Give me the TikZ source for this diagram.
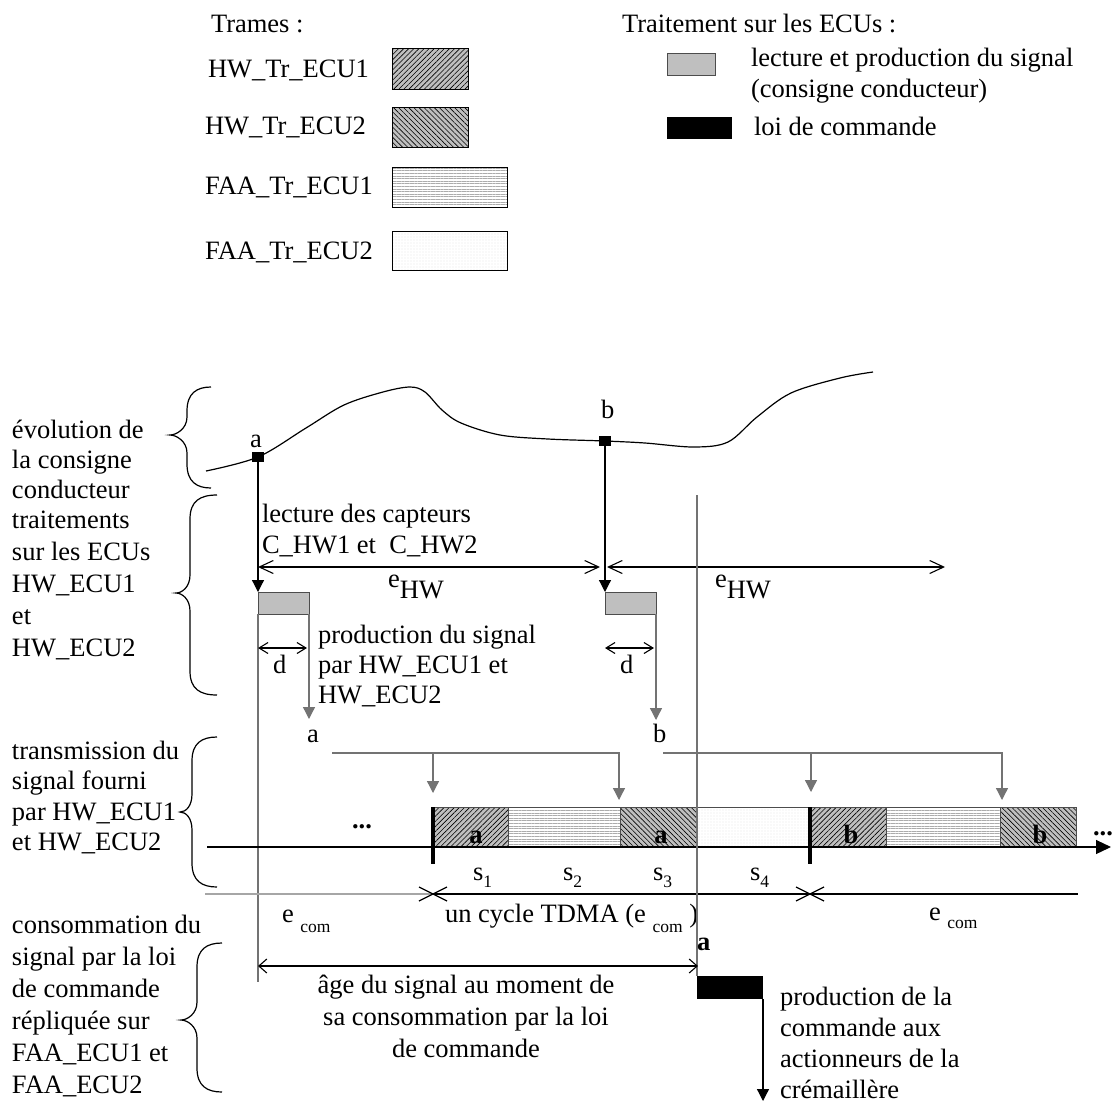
\documentclass[tikz,border=0pt]{standalone}
\usepackage{fontspec}
\setmainfont{Liberation Serif}
\usetikzlibrary{arrows.meta,patterns.meta}
\newcommand\mybrace[6]{%
  \draw[brc] (#1,#4) .. controls (#2+10,#4) and (#2,#4+6) .. (#2,#4+24) -- (#2,#5-18) .. controls (#2,#5-6) and (#3+6,#5) .. (#3,#5) .. controls (#3+6,#5) and (#2,#5+6) .. (#2,#5+18) -- (#2,#6-24) .. controls (#2,#6-6) and (#2+10,#6) .. (#1,#6);}
\begin{document}
\begin{tikzpicture}[x=1pt,y=-1pt,
 every node/.style={inner sep=0pt, outer sep=0pt},
 txt/.style={font=\fontsize{26.5}{31}\selectfont, anchor=base west},
 txtc/.style={font=\fontsize{26.5}{31}\selectfont, anchor=base},
 bld/.style={font=\fontsize{26.5}{31}\selectfont\bfseries, anchor=base},
 ln/.style={line width=1.2pt},
 con/.style={line width=1.3pt, draw=black!55},
 tri/.style={-{Triangle[length=12pt,width=12pt]}},
 barb/.style={line width=1.1pt,{Straight Barb[length=14pt,width=13pt,line width=1.1pt]}-{Straight Barb[length=14pt,width=13pt,line width=1.1pt]}},
 barbs/.style={line width=1.1pt,{Straight Barb[length=9pt,width=11pt,line width=1.1pt]}-{Straight Barb[length=9pt,width=11pt,line width=1.1pt]}},
 barba/.style={line width=1.1pt,{Straight Barb[length=8pt,width=14pt,line width=1.1pt]}-{Straight Barb[length=8pt,width=14pt,line width=1.1pt]}},
 brc/.style={line width=1.2pt},
 hwA/.style={preaction={fill=gray!50}, pattern={Lines[angle=45,distance=3.6pt,line width=0.6pt]}, pattern color=black},
 hwB/.style={preaction={fill=gray!50}, pattern={Lines[angle=-45,distance=3.6pt,line width=0.6pt]}, pattern color=black},
 faaA/.style={preaction={fill=white}, pattern={Lines[angle=0,distance=2.6pt,line width=0.5pt]}, pattern color=gray!65},
 faaB/.style={preaction={fill=white}, pattern={Dots[distance=3pt,radius=0.45pt]}, pattern color=gray!55},
 segb/.style={draw=gray!60!black, line width=0.8pt},
 gbx/.style={draw=black!70, fill=gray!50, line width=0.8pt, anchor=north west},
]
\useasboundingbox (0,0) rectangle (1114,1104);

% ---------- legend left
\node[txt] (trames) at (211,32.5) {Trames :};
\node[txt] (lg1) at (208,77) {HW\_Tr\_ECU1};
\node[txt] (lg2) at (205,134.5) {HW\_Tr\_ECU2};
\node[txt] (lg3) at (205,194) {FAA\_Tr\_ECU1};
\node[txt] (lg4) at (205,259) {FAA\_Tr\_ECU2};
\draw[hwA, draw=black, line width=0.8pt] (392,48) rectangle (468,89);
\draw[hwB, draw=black, line width=0.8pt] (392,107) rectangle (468,147);
\draw[faaA, draw=black, line width=0.8pt] (392,167) rectangle (507,207);
\draw[faaB, draw=black, line width=0.8pt] (392,231) rectangle (507,270);

% ---------- legend right
\node[txt] (trt) at (622,32.5) {Traitement sur les ECUs :};
\node[gbx, minimum width=48pt, minimum height=22pt] (lgb) at (667,53) {};
\node[txt] (lgt1) at (751,66) {lecture et production du signal};
\node[txt] (lgt2) at (751,97) {(consigne conducteur)};
\node[fill=black, minimum width=65pt, minimum height=22pt, anchor=north west] (lbb) at (667,117) {};
\node[txt] (lgt3) at (754,135) {loi de commande};

% ---------- left labels
\node[txt] (g11) at (12,438) {évolution de};
\node[txt] (g12) at (12,468) {la consigne};
\node[txt] (g13) at (12,498) {conducteur};
\node[txt] (g21) at (12,528) {traitements};
\node[txt] (g22) at (12,560) {sur les ECUs};
\node[txt] (g23) at (12,592) {HW\_ECU1};
\node[txt] (g24) at (12,624) {et};
\node[txt] (g25) at (12,656) {HW\_ECU2};
\node[txt] (g31) at (12,759) {transmission du};
\node[txt] (g32) at (12,789) {signal fourni};
\node[txt] (g33) at (12,820) {par HW\_ECU1};
\node[txt] (g34) at (12,850) {et HW\_ECU2};
\node[txt] (g41) at (12,933) {consommation du};
\node[txt] (g42) at (12,965) {signal par la loi};
\node[txt] (g43) at (12,997) {de commande};
\node[txt] (g44) at (12,1029) {répliquée sur};
\node[txt] (g45) at (12,1061) {FAA\_ECU1 et};
\node[txt] (g46) at (12,1093) {FAA\_ECU2};

\mybrace{211}{187}{170}{387}{435}{488}
\mybrace{217}{190}{176}{495}{593}{695}
\mybrace{217}{192}{180}{737}{812}{887}
\mybrace{222}{197}{181}{943}{1020}{1092}

% ---------- curve of the driver set-point
\draw[line width=1.2pt] plot[smooth,tension=0.55] coordinates {(206,471) (258,457) (306,428) (344,405) (383,392) (410,387) (425,392) (442,410) (461,423) (500,435) (548,439) (605,441) (645,443) (694,447) (728,442) (757,417) (791,393) (840,378) (873,372)};
\node[fill=black, minimum width=12pt, minimum height=10pt] (sqa) at (258,457) {};
\node[fill=black, minimum width=12pt, minimum height=10pt] (sqb) at (605,441) {};
\node[txt] (la) at (250,447) {a};
\node[txt] (lb) at (601,418) {b};

% ---------- ECU processing
\node[gbx, minimum width=51pt, minimum height=22pt] (pa) at (258,592) {};
\node[gbx, minimum width=51pt, minimum height=22pt] (pb) at (605,592) {};
\draw[ln,tri] (sqa.south) -- (pa.north west);
\draw[ln,tri] (sqb.south) -- (pb.north west);
\coordinate (aend) at (258,982);
\draw[con] (pa.south west) -- (aend);

\node[txt] (lec1) at (262,522) {lecture des capteurs};
\node[txt] (lec2) at (262,553) {C\_HW1 et\ \ C\_HW2};

\coordinate (eh1) at (258,567);
\coordinate (eh2) at (600,567);
\coordinate (eh3) at (607,567);
\coordinate (eh4) at (945,567);
\draw[barb] (eh1) -- (eh2);
\draw[barb] (eh3) -- (eh4);
\node[txt] (ehw1) at (388,587) {e\raisebox{-11pt}{HW}};
\node[txt] (ehw2) at (715,587) {e\raisebox{-11pt}{HW}};

\coordinate (d1a) at (258,648);
\coordinate (d1b) at (307,648);
\coordinate (d2a) at (605,648);
\coordinate (d2b) at (654,648);
\draw[barbs] (d1a) -- (d1b);
\draw[barbs] (d2a) -- (d2b);
\node[txt] (dl1) at (273,673) {d};
\node[txt] (dl2) at (620,673) {d};

\node[txt] (pr1) at (318,643) {production du signal};
\node[txt] (pr2) at (318,673) {par HW\_ECU1 et};
\node[txt] (pr3) at (318,703) {HW\_ECU2};

\coordinate (pad) at (309,719);
\coordinate (pbd) at (656,720);
\draw[con,tri] (pa.south east) -- (pad);
\draw[con,tri] (pb.south east) -- (pbd);
\node[txt] (sa) at (307,742) {a};
\node[txt] (sb) at (653,742) {b};

% ---------- transmissions
\coordinate (ah0) at (332,753);
\coordinate (ah1) at (433,753);
\coordinate (ah2) at (619,753);
\coordinate (at1) at (433,793);
\coordinate (at2) at (619,800);
\draw[con,tri] (ah0) -- (ah2) -- (at2);
\draw[con,tri] (ah1) -- (at1);
\coordinate (bh0) at (663,753);
\coordinate (bh1) at (811,753);
\coordinate (bh2) at (1002,753);
\coordinate (bt1) at (811,792);
\coordinate (bt2) at (1002,800);
\draw[con,tri] (bh0) -- (bh2) -- (bt2);
\draw[con,tri] (bh1) -- (bt1);

% ---------- TDMA bar
\draw[hwA, segb] (433,807) rectangle (508,847);
\draw[faaA, segb] (508,807) rectangle (620,847);
\draw[hwB, segb] (620,807) rectangle (697,847);
\draw[faaB, segb] (697,807) rectangle (810,847);
\draw[hwA, segb] (810,807) rectangle (886,847);
\draw[faaA, segb] (886,807) rectangle (1000,847);
\draw[hwB, segb] (1000,807) rectangle (1076,847);
\node[bld] (ba1) at (476,843) {a};
\node[bld] (ba2) at (661,843) {a};
\node[bld] (bb1) at (851,843) {b};
\node[bld] (bb2) at (1040,843) {b};

\coordinate (ax0) at (207,847);
\coordinate (ax1) at (1111,847);
\draw[ln,-{Triangle[length=15pt,width=14pt]}] (ax0) -- (ax1);
\draw[line width=3.5pt] (433,807) -- (433,864);
\draw[line width=3.5pt] (810,807) -- (810,864);
\node[bld] (dots1) at (362,828) {...};
\node[bld] (dots2) at (1103,835) {...};

\node[txt] (s1) at (473,880) {s\raisebox{-7pt}{\fontsize{17.5}{20}\selectfont 1}};
\node[txt] (s2) at (563,880) {s\raisebox{-7pt}{\fontsize{17.5}{20}\selectfont 2}};
\node[txt] (s3) at (653,880) {s\raisebox{-7pt}{\fontsize{17.5}{20}\selectfont 3}};
\node[txt] (s4) at (750,880) {s\raisebox{-7pt}{\fontsize{17.5}{20}\selectfont 4}};

\draw[line width=1.8pt, gray!70] (205,894) -- (433,894);
\draw[ln] (433,894) -- (1078,894);
\draw[ln] (419,887) -- (447,901) (419,901) -- (447,887);
\draw[ln] (796,887) -- (824,901) (796,901) -- (824,887);

\node[txt] (ec1) at (282,922) {e \raisebox{-10pt}{\fontsize{17.5}{20}\selectfont com}};
\node[txt] (cyc) at (445,922) {un cycle TDMA (e \raisebox{-10pt}{\fontsize{17.5}{20}\selectfont com} )};
\node[txt] (ec2) at (929,920) {e \raisebox{-8pt}{\fontsize{17.5}{20}\selectfont com}};

% ---------- consumption
\node[fill=black, minimum width=66pt, minimum height=23pt, anchor=north west] (cmd) at (697,976) {};
\coordinate (vtop) at (697,495);
\draw[con] (vtop) -- (cmd.north west);
\node[txt, font=\fontsize{26.5}{31}\selectfont\bfseries] (ca) at (697,950) {a};

\coordinate (ag1) at (258,966);
\coordinate (ag2) at (698,966);
\draw[barba] (ag1) -- (ag2);
\node[txtc] (age1) at (466,993) {âge du signal au moment de};
\node[txtc] (age2) at (466,1025) {sa consommation par la loi};
\node[txtc] (age3) at (466,1057) {de commande};

\coordinate (cmdd) at (763,1101);
\draw[ln,tri] (cmd.south east) -- (cmdd);
\node[txt] (pc1) at (780,1005) {production de la};
\node[txt] (pc2) at (780,1036) {commande aux};
\node[txt] (pc3) at (780,1067) {actionneurs de la};
\node[txt] (pc4) at (780,1098) {crémaillère};
\end{tikzpicture}
\end{document}
